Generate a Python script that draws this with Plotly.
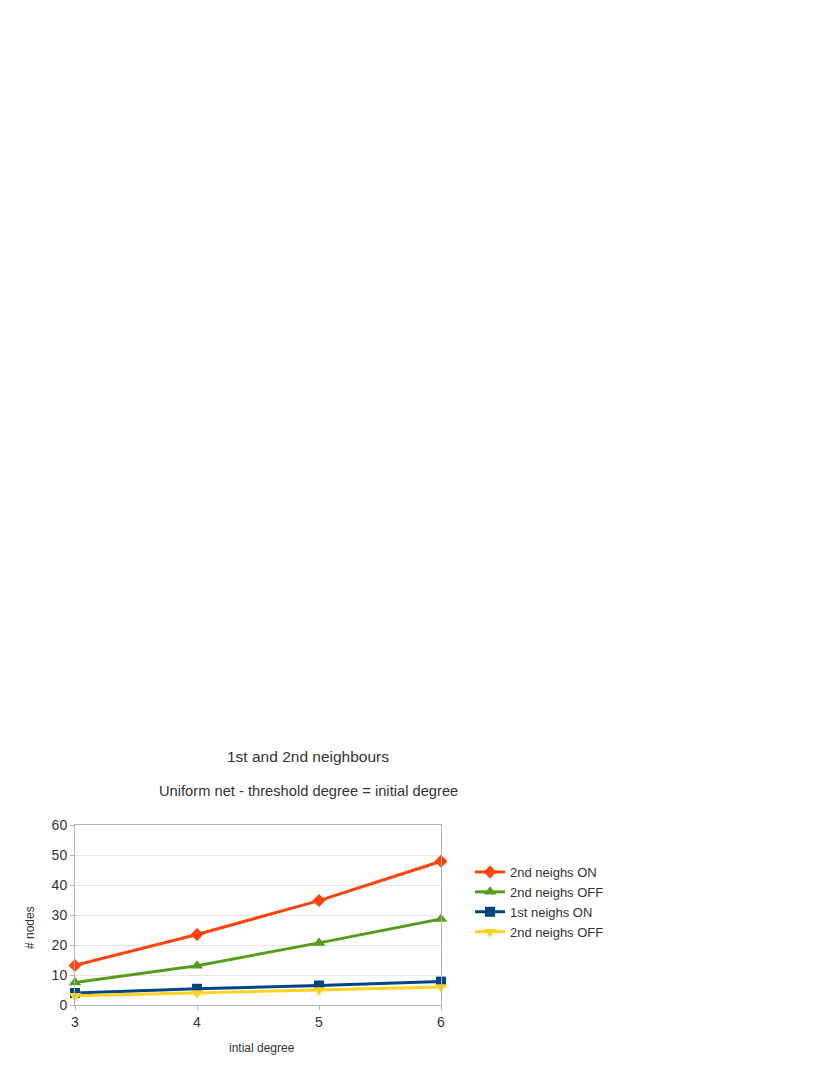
import plotly.graph_objects as go

# valeurs
degree = [3, 4, 5, 6]
second_on = [13.2, 23.5, 34.8, 47.9]
second_off = [7.5, 13.1, 20.7, 28.7]
first_on = [4.0, 5.4, 6.5, 7.8]
second_off_b = [3.1, 4.0, 5.0, 6.0]

series = [
    ("2nd neighs ON", second_on, "#ff420e", "diamond", 10),
    ("2nd neighs OFF", second_off, "#579d1c", "triangle-up", 11),
    ("1st neighs ON", first_on, "#004586", "square", 10),
    ("2nd neighs OFF", second_off_b, "#ffd320", "triangle-down", 11),
]

FONT = "Liberation Sans, Arial, sans-serif"

fig = go.Figure()
for name, ys, color, symbol, size in series:
    fig.add_trace(go.Scatter(
        x=degree, y=ys, name=name, mode="lines+markers",
        line=dict(color=color, width=3),
        marker=dict(symbol=symbol, size=size, color=color),
        cliponaxis=False,
    ))

W, H = 830, 1075
PAGE = 8  # marge du body html
L, R, T, B = 75, 441, 825, 1005  # zone de tracé dans la page

fig.update_layout(
    width=W, height=H,
    paper_bgcolor="white", plot_bgcolor="white",
    margin=dict(l=L - PAGE, r=W - (R - PAGE), t=T - PAGE, b=H - (B - PAGE)),
    font=dict(family=FONT, color="#333333", size=13),
    title=dict(text="1st and 2nd neighbours", x=(308 - PAGE) / W, xanchor="center",
               y=1 - (757 - PAGE) / H, yanchor="middle", yref="container",
               font=dict(size=15.5, color="#333333")),
    legend=dict(x=(470 - L) / (R - L), xanchor="left", y=(B - 857) / (B - T), yanchor="top",
                font=dict(size=13, color="#333333"), tracegroupgap=0, itemwidth=30,
                bgcolor="rgba(0,0,0,0)"),
    showlegend=True,
)

fig.update_xaxes(range=[3, 6], tickvals=degree, showgrid=False, zeroline=False,
                 showline=True, linecolor="#b3b3b3", mirror=True,
                 ticks="outside", ticklen=4, tickcolor="#b3b3b3",
                 tickfont=dict(size=14, color="#333333"))
fig.update_yaxes(range=[0, 60], dtick=10, showgrid=True, gridcolor="#e6e6e6",
                 zeroline=False, showline=True, linecolor="#b3b3b3", mirror=True,
                 ticks="outside", ticklen=4, tickcolor="#b3b3b3",
                 tickfont=dict(size=14, color="#333333"))

fig.add_annotation(text="Uniform net - threshold degree = initial degree",
                   xref="paper", yref="paper", x=(308 - L) / (R - L), y=(B - 791) / (B - T),
                   xanchor="center", yanchor="middle", showarrow=False,
                   font=dict(size=14.7, color="#333333"))
fig.add_annotation(text="intial degree", xref="paper", yref="paper",
                   x=(262 - L) / (R - L), y=(B - 1048) / (B - T),
                   xanchor="center", yanchor="middle", showarrow=False,
                   font=dict(size=12, color="#333333"))
fig.add_annotation(text="# nodes", xref="paper", yref="paper",
                   x=(30 - L) / (R - L), y=(B - 928) / (B - T), textangle=-90,
                   xanchor="center", yanchor="middle", showarrow=False,
                   font=dict(size=12, color="#333333"))

fig.write_html("out.html")
